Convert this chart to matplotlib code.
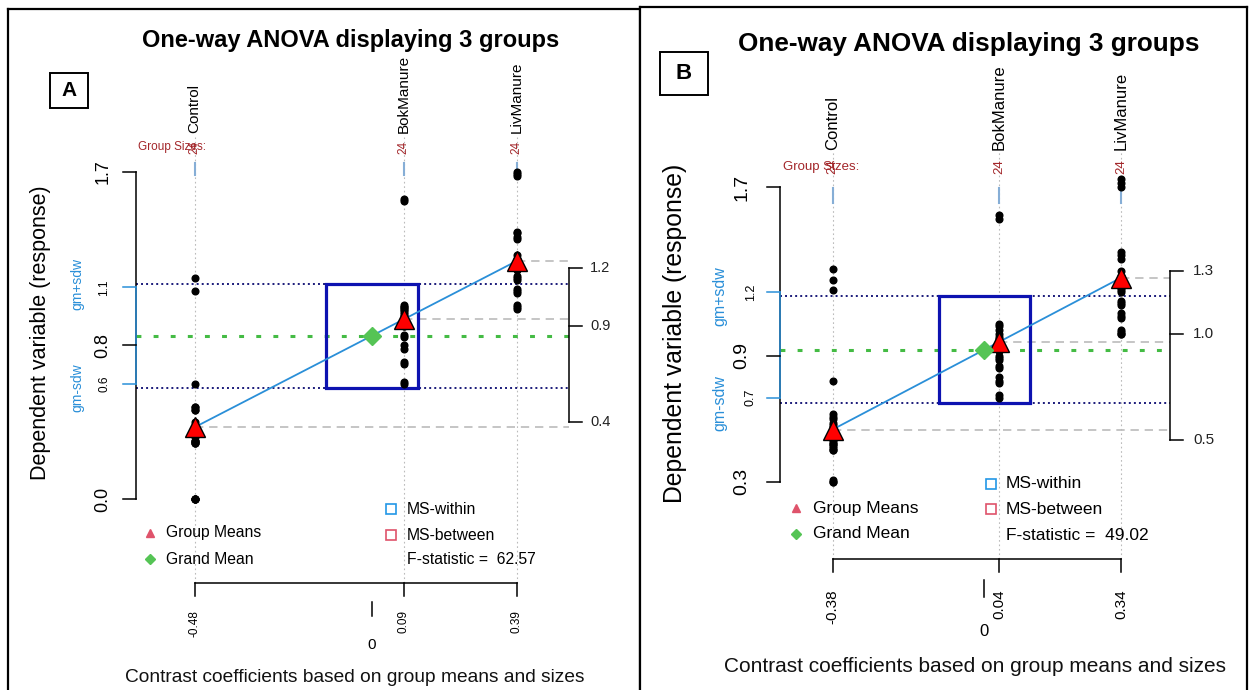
import numpy as np
import matplotlib.pyplot as plt
from matplotlib.patches import Rectangle

plt.rcParams['font.family'] = ['Liberation Sans', 'DejaVu Sans']

# ---- data ----
groups = ['Control', 'BokManure', 'LivManure']
sizes = [24, 24, 24]

# panel A
means_a = [0.373, 0.934, 1.237]
sdw_a = 0.27
box_hw_a = 0.123
fstat_a = 62.57
yticks_a = [0.0, 0.6, 0.8, 1.1, 1.7]
rticks_a = [0.4, 0.9, 1.2]
clabels_a = ['-0.48', '0.09', '0.39']
points_a = [
    [1.15, 1.08, 0.60, 0.48, 0.48, 0.46, 0.46, 0.40, 0.38, 0.37, 0.36, 0.34,
     0.32, 0.30, 0.30, 0.30, 0.29, 0.29, 0.29, 0.0, 0.0, 0.0, 0.0, 0.0],
    [1.56, 1.55, 1.01, 1.00, 1.00, 0.99, 0.98, 0.97, 0.96, 0.95, 0.94, 0.93,
     0.92, 0.91, 0.90, 0.90, 0.85, 0.84, 0.80, 0.78, 0.71, 0.70, 0.61, 0.60],
    [1.70, 1.69, 1.68, 1.39, 1.38, 1.36, 1.35, 1.27, 1.25, 1.24, 1.23, 1.22,
     1.21, 1.20, 1.19, 1.16, 1.15, 1.14, 1.09, 1.08, 1.07, 1.01, 1.00, 0.99],
]

# panel B
means_b = [0.548, 0.965, 1.270]
sdw_b = 0.254
box_hw_b = 0.114
fstat_b = 49.02
yticks_b = [0.3, 0.7, 0.9, 1.2, 1.7]
rticks_b = [0.5, 1.0, 1.3]
clabels_b = ['-0.38', '0.04', '0.34']
points_b = [
    [1.31, 1.26, 1.21, 0.78, 0.62, 0.61, 0.60, 0.58, 0.57, 0.56, 0.55, 0.54,
     0.52, 0.50, 0.49, 0.48, 0.48, 0.47, 0.46, 0.45, 0.45, 0.31, 0.30, 0.30],
    [1.57, 1.55, 1.05, 1.04, 1.02, 1.00, 0.99, 0.98, 0.97, 0.96, 0.95, 0.95,
     0.94, 0.92, 0.90, 0.89, 0.88, 0.85, 0.84, 0.80, 0.78, 0.77, 0.71, 0.70],
    [1.74, 1.72, 1.70, 1.39, 1.38, 1.36, 1.30, 1.28, 1.27, 1.26, 1.25, 1.22,
     1.21, 1.20, 1.16, 1.15, 1.14, 1.10, 1.09, 1.08, 1.02, 1.01, 1.00, 1.00],
]

W, H = 1251, 690
fig = plt.figure(figsize=(W / 100, H / 100), dpi=100)

# layout of each panel in image pixels (x0/xs, y0/ys map data to pixels)
lay_a = dict(left=8, right=640, top=9, x0=371.7, xs=372.7, y0=499, ys=192.4,
             lspine=136, rspine=569, axis_y=583, vtop=137, seg=(163, 175),
             name_bot=133, size_y=147, gs_x=138, title=(351, 40), letter_box=(50, 73, 88, 108),
             ylab_x=40, tick_x=103, tick_small_x=104, gm_x=77, rlab_x=590,
             blab_y=610, zero_tick=(602, 616), zero_y=645, xlab=(355, 677),
             leg_l=(150, 166, 533, 559), leg_r=(391, 407, 509, 535, 559),
             fs=dict(title=17, name=11, size=8.5, ylab=15.5, tick=13, tick_s=8.5, gm=10,
                     rlab=10.5, blab=8.5, zero=11, xlab=13.8, leg=11.3, letter=15))
lay_b = dict(left=640, right=1247, top=7, x0=984.3, xs=399.6, y0=544.8, ys=210.3,
             lspine=780, rspine=1170, axis_y=559, vtop=152, seg=(188, 203),
             name_bot=150, size_y=167, gs_x=783, title=(969, 44), letter_box=(660, 52, 708, 95),
             ylab_x=675, tick_x=742, tick_small_x=751, gm_x=720, rlab_x=1193,
             blab_y=589, zero_tick=(580, 597), zero_y=631, xlab=(975, 666),
             leg_l=(796, 813, 508, 534), leg_r=(991, 1006, 484, 509, 536),
             fs=dict(title=18.8, name=12, size=9.5, ylab=17.8, tick=14, tick_s=9, gm=11.5,
                     rlab=11, blab=11, zero=12, xlab=15, leg=12.5, letter=16))

RED_TXT = '#A3262A'
GREEN = '#55C455'


def draw_panel(L, means, sdw, box_hw, points, yticks, rticks, clabels, fstat, letter):
    X = lambda xp: (xp - L['x0']) / L['xs']
    Y = lambda yp: (L['y0'] - yp) / L['ys']
    fs = L['fs']

    ax = fig.add_axes([L['left'] / W, 0, (L['right'] - L['left']) / W, (H - L['top']) / H])
    ax.set_xlim(X(L['left']), X(L['right']))
    ax.set_ylim(Y(H), Y(L['top']))
    ax.set_xticks([])
    ax.set_yticks([])
    ax.spines['bottom'].set_visible(False)
    for s in ['left', 'top', 'right']:
        ax.spines[s].set_linewidth(1.6)

    gm = np.mean(means)
    contrasts = [m - gm for m in means]
    xl, xr = X(L['lspine']), X(L['rspine'])

    # group guide lines
    for c in contrasts:
        ax.plot([c, c], [Y(L['axis_y']), Y(L['vtop'])], color='#BBBBBB', lw=0.8,
                ls=(0, (1.5, 2.5)), zorder=1)
        ax.plot([c, c], [Y(L['seg'][1]), Y(L['seg'][0])], color='#86AED6', lw=1.5, zorder=1)

    # gm +- sdw and grand mean
    for v in [gm - sdw, gm + sdw]:
        ax.plot([xl, xr], [v, v], color='#1A1A7A', lw=1.4, ls=(0, (1, 1.6)), zorder=2)
    ax.plot([xl, xr], [gm, gm], color='#44BB44', lw=2.2, ls=(0, (1.6, 4)), zorder=2)

    # group means projected on right axis
    for c, m in zip(contrasts, means):
        ax.plot([c, xr], [m, m], color='#BBBBBB', lw=1.2, ls=(0, (5, 3.5)), zorder=2)

    # MS-within square
    ax.add_patch(Rectangle((-box_hw, gm - sdw), 2 * box_hw, 2 * sdw, fill=False,
                           ec='#0D12B0', lw=2.3, zorder=3))

    for c, pts in zip(contrasts, points):
        ax.plot([c] * len(pts), pts, 'o', color='black', ms=4.8, zorder=4)

    order = np.argsort(contrasts)
    ax.plot(np.array(contrasts)[order], np.array(means)[order], color='#2A8FD8', lw=1.3, zorder=5)
    ax.plot(contrasts, means, '^', mfc='#FF0000', mec='black', mew=1.0, ms=15, zorder=6)
    ax.plot([0], [gm], 'D', color=GREEN, ms=9, zorder=6)

    # left axis
    tl = X(L['lspine'] - 13)
    ax.plot([xl, xl], [min(yticks), max(yticks)], color='black', lw=1.1)
    ax.plot([xl, xl], [yticks[1], yticks[3]], color='#2A8FD8', lw=1.1)
    for i, v in enumerate(yticks):
        small = i in (1, 3)
        ax.plot([tl, xl], [v, v], color='#2A8FD8' if small else 'black', lw=1.1)
        ax.text(X(L['tick_small_x'] if small else L['tick_x']), v, f'{v:.1f}', rotation=90,
                ha='center', va='center', fontsize=fs['tick_s'] if small else fs['tick'])
    ax.text(X(L['gm_x']), gm + sdw, 'gm+sdw', rotation=90, ha='center', va='center',
            fontsize=fs['gm'], color='#2A8FD8')
    ax.text(X(L['gm_x']), gm - sdw, 'gm-sdw', rotation=90, ha='center', va='center',
            fontsize=fs['gm'], color='#2A8FD8')
    ax.text(X(L['ylab_x']), Y(333), 'Dependent variable (response)', rotation=90,
            ha='center', va='center', fontsize=fs['ylab'])

    # right axis
    tr = X(L['rspine'] + 13)
    ax.plot([xr, xr], [min(rticks), max(rticks)], color='black', lw=1.1)
    for v in rticks:
        ax.plot([xr, tr], [v, v], color='black', lw=1.1)
        ax.text(X(L['rlab_x']), v, f'{v:.1f}', ha='left', va='center', fontsize=fs['rlab'],
                color='#222222')

    # bottom axis (contrast coefficients)
    yb = Y(L['axis_y'])
    ax.plot([min(contrasts), max(contrasts)], [yb, yb], color='black', lw=1.1)
    for c, lab in zip(contrasts, clabels):
        ax.plot([c, c], [yb, Y(L['axis_y'] + 13)], color='black', lw=1.1)
        ax.text(c, Y(L['blab_y']), lab, rotation=90, ha='center', va='top',
                fontsize=fs['blab'])
    ax.plot([0, 0], [Y(L['zero_tick'][0]), Y(L['zero_tick'][1])], color='black', lw=1.1)
    ax.text(0, Y(L['zero_y']), '0', ha='center', va='center', fontsize=fs['zero'])
    ax.text(X(L['xlab'][0]), Y(L['xlab'][1]), 'Contrast coefficients based on group means and sizes',
            ha='center', va='center', fontsize=fs['xlab'], color='#111111')

    # top: group names and sizes
    for c, g, n in zip(contrasts, groups, sizes):
        ax.text(c, Y(L['name_bot']), g, rotation=90, ha='center', va='bottom', fontsize=fs['name'])
        ax.text(c, Y(L['size_y']), str(n), rotation=90, ha='center', va='center',
                fontsize=fs['size'], color=RED_TXT)
    ax.text(X(L['gs_x']), Y(L['size_y']), 'Group Sizes:', ha='left', va='center',
            fontsize=fs['size'], color=RED_TXT)

    # title and panel letter
    ax.text(X(L['title'][0]), Y(L['title'][1]), 'One-way ANOVA displaying 3 groups',
            ha='center', va='center', fontsize=fs['title'], fontweight='bold')
    x1, y1, x2, y2 = L['letter_box']
    ax.add_patch(Rectangle((X(x1), Y(y2)), X(x2) - X(x1), Y(y1) - Y(y2), fill=False,
                           ec='black', lw=1.4))
    ax.text(X((x1 + x2) / 2), Y((y1 + y2) / 2), letter, ha='center', va='center',
            fontsize=fs['letter'], fontweight='bold')

    # legends
    mx, tx, y_gm, y_gr = L['leg_l']
    ax.plot([X(mx)], [Y(y_gm)], '^', color='#DF536B', ms=6)
    ax.text(X(tx), Y(y_gm), 'Group Means', ha='left', va='center', fontsize=fs['leg'])
    ax.plot([X(mx)], [Y(y_gr)], 'D', color=GREEN, ms=5)
    ax.text(X(tx), Y(y_gr), 'Grand Mean', ha='left', va='center', fontsize=fs['leg'])
    mx, tx, y_w, y_b, y_f = L['leg_r']
    ax.plot([X(mx)], [Y(y_w)], 's', mfc='none', mec='#2297E6', mew=1.2, ms=7)
    ax.text(X(tx), Y(y_w), 'MS-within', ha='left', va='center', fontsize=fs['leg'])
    ax.plot([X(mx)], [Y(y_b)], 's', mfc='none', mec='#DF536B', mew=1.2, ms=7)
    ax.text(X(tx), Y(y_b), 'MS-between', ha='left', va='center', fontsize=fs['leg'])
    ax.text(X(tx), Y(y_f), f'F-statistic =  {fstat:.2f}', ha='left', va='center',
            fontsize=fs['leg'])


draw_panel(lay_a, means_a, sdw_a, box_hw_a, points_a, yticks_a, rticks_a, clabels_a, fstat_a, 'A')
draw_panel(lay_b, means_b, sdw_b, box_hw_b, points_b, yticks_b, rticks_b, clabels_b, fstat_b, 'B')

fig.savefig('out.png', dpi=100)
